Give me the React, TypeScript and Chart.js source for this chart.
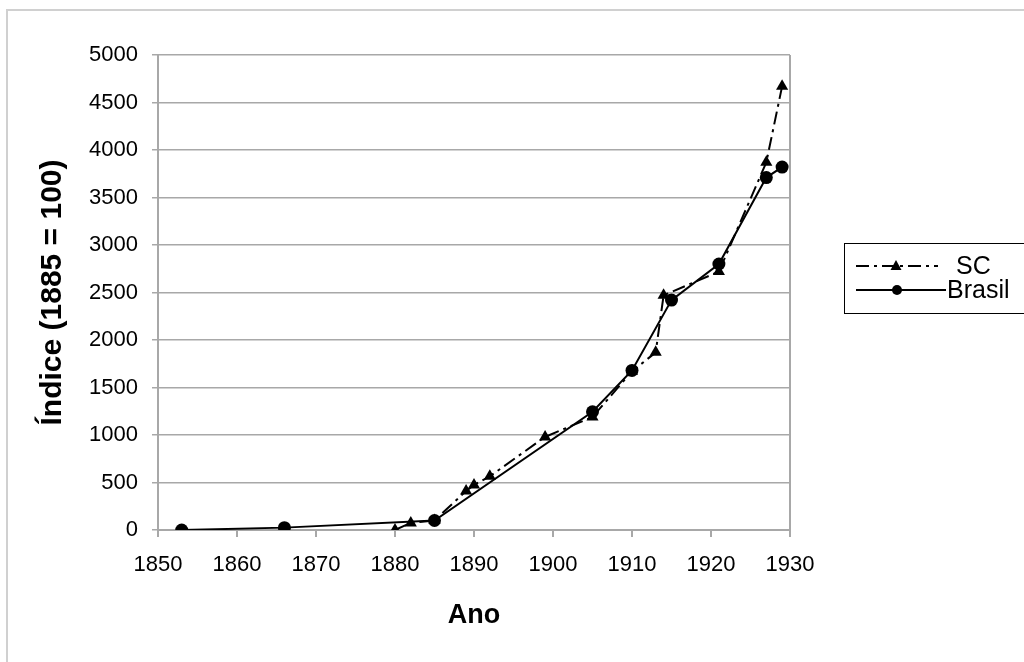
import React, { useEffect, useRef } from "react";
import { Chart, registerables } from "chart.js";

Chart.register(...registerables);

const scYears = [1880, 1882, 1885, 1889, 1890, 1892, 1899, 1905, 1910, 1913, 1914, 1921, 1927, 1929];
const scValues = [0, 75, 100, 410, 475, 565, 980, 1190, 1670, 1870, 2470, 2720, 3870, 4670];
const brYears = [1853, 1866, 1885, 1905, 1910, 1915, 1921, 1927, 1929];
const brValues = [0, 25, 100, 1245, 1680, 2420, 2800, 3710, 3820];
const seriesNames = ["SC", "Brasil"];
const xTitle = "Ano";
const yTitle = "Índice (1885 = 100)";

const FONT = "'Liberation Sans', Arial, sans-serif";
const GRID = "#a8a8a8";

export default function App() {
  const ref = useRef<HTMLCanvasElement>(null);

  useEffect(() => {
    const canvas = ref.current;
    if (!canvas) return;

    const framePlugin = {
      id: "framePlugin",
      beforeDraw(chart: any) {
        const ctx = chart.ctx;
        ctx.save();
        ctx.fillStyle = "#ffffff";
        ctx.fillRect(0, 0, chart.width, chart.height);
        ctx.fillStyle = "#d0d0d0";
        ctx.fillRect(6, 9, 2, chart.height);
        ctx.fillRect(6, 9, chart.width, 2);
        ctx.restore();
      },
      beforeDatasetsDraw(chart: any) {
        const { ctx, chartArea } = chart;
        ctx.save();
        ctx.strokeStyle = GRID;
        ctx.lineWidth = 2;
        ctx.beginPath();
        ctx.moveTo(chartArea.right, chartArea.top);
        ctx.lineTo(chartArea.right, chartArea.bottom);
        ctx.stroke();
        ctx.restore();
      },
      afterDraw(chart: any) {
        const ctx = chart.ctx;
        ctx.save();
        const bx = 844.5, by = 243.5, bh = 70;
        ctx.strokeStyle = "#000";
        ctx.lineWidth = 1;
        ctx.strokeRect(bx, by, 300, bh);
        const rows = [266, 290];
        ctx.font = `25px ${FONT}`;
        ctx.fillStyle = "#000";
        ctx.textBaseline = "middle";
        ctx.textAlign = "left";
        // SC sample
        ctx.lineWidth = 2;
        ctx.strokeStyle = "#000";
        ctx.setLineDash([13, 5, 3, 5]);
        ctx.beginPath();
        ctx.moveTo(856, rows[0]);
        ctx.lineTo(938, rows[0]);
        ctx.stroke();
        ctx.setLineDash([]);
        ctx.beginPath();
        const tx = 896, ty = rows[0];
        ctx.moveTo(tx, ty - 6);
        ctx.lineTo(tx + 5.5, ty + 4);
        ctx.lineTo(tx - 5.5, ty + 4);
        ctx.closePath();
        ctx.fill();
        ctx.fillText(seriesNames[0], 956, rows[0] + 1);
        // Brasil sample
        ctx.beginPath();
        ctx.moveTo(856, rows[1]);
        ctx.lineTo(946, rows[1]);
        ctx.stroke();
        ctx.beginPath();
        ctx.arc(897, rows[1], 5, 0, Math.PI * 2);
        ctx.fill();
        ctx.fillText(seriesNames[1], 947, rows[1] + 1);
        ctx.restore();
      },
    };

    const chart = new Chart(canvas, {
      type: "scatter",
      data: {
        datasets: [
          {
            label: seriesNames[0],
            data: scYears.map((x, i) => ({ x, y: scValues[i] })),
            showLine: true,
            borderColor: "#000",
            backgroundColor: "#000",
            borderWidth: 2,
            borderDash: [13, 5, 3, 5],
            pointStyle: "triangle",
            pointRadius: 7,
            pointBorderWidth: 0,
            order: 2,
          },
          {
            label: seriesNames[1],
            data: brYears.map((x, i) => ({ x, y: brValues[i] })),
            showLine: true,
            borderColor: "#000",
            backgroundColor: "#000",
            borderWidth: 2,
            pointStyle: "circle",
            pointRadius: 6.5,
            pointBorderWidth: 0,
            order: 1,
          },
        ],
      },
      options: {
        animation: false,
        responsive: true,
        maintainAspectRatio: false,
        layout: { padding: { left: 0, top: 55, right: 234, bottom: 0 } },
        plugins: { legend: { display: false }, tooltip: { enabled: false } },
        scales: {
          x: {
            type: "linear",
            min: 1850,
            max: 1930,
            afterFit: (s: any) => {
              s.height = 132;
            },
            ticks: {
              stepSize: 10,
              color: "#000",
              font: { family: FONT, size: 22 },
              padding: 15,
              maxRotation: 0,
              callback: (v: any) => String(v),
            },
            grid: { drawOnChartArea: false, drawTicks: true, tickLength: 7, color: GRID, lineWidth: 2 },
            border: { color: GRID, width: 2 },
            title: {
              display: true,
              text: xTitle,
              color: "#000",
              font: { family: FONT, size: 27, weight: "bold" },
              padding: { top: 0, bottom: 30 },
            },
          },
          y: {
            min: 0,
            max: 5000,
            afterFit: (s: any) => {
              s.width = 158;
            },
            ticks: {
              stepSize: 500,
              color: "#000",
              font: { family: FONT, size: 22 },
              padding: 14,
              callback: (v: any) => String(v),
            },
            grid: { drawOnChartArea: true, drawTicks: true, tickLength: 6, color: GRID, lineWidth: 1.5 },
            border: { color: GRID, width: 2 },
            title: {
              display: true,
              text: yTitle,
              color: "#000",
              font: { family: FONT, size: 30, weight: "bold" },
              padding: { top: 35, bottom: 0 },
            },
          },
        },
      },
      plugins: [framePlugin],
    });

    return () => chart.destroy();
  }, []);

  return (
    <div style={{ position: "fixed", left: 0, top: 0, width: 1024, height: 662 }}>
      <canvas ref={ref} />
    </div>
  );
}
